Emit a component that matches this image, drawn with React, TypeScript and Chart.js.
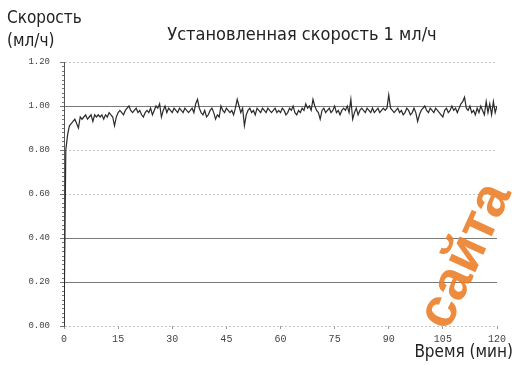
import React, { useEffect, useRef } from 'react';
import { Chart, registerables } from 'chart.js';

Chart.register(...registerables);

const TITLE = 'Установленная скорость 1 мл/ч';
const Y_TITLE = ['Скорость', '(мл/ч)'];
const X_TITLE = 'Время (мин)';
const WATERMARK = 'сайта';

const SAMPLE_STEP_MIN = 0.5;
const X_MAX = 120;
const X_STEP = 15;
const Y_MAX = 1.2;
const Y_STEP = 0.2;
const Y_SOLID_LINES = [1.0, 0.4, 0.2];

// speed (ml/h), sampled every 0.5 min from 0 to 120 min
const speed = [
  0.00, 0.80, 0.87, 0.91, 0.92, 0.93, 0.94, 0.92, 0.90, 0.95, 0.94, 0.95, 0.96, 0.94, 0.95, 0.96, 0.93, 0.96, 0.95, 0.96,
  0.95, 0.96, 0.94, 0.96, 0.95, 0.97, 0.96, 0.95, 0.91, 0.95, 0.97, 0.98, 0.97, 0.96, 0.98, 0.99, 1.00, 0.98, 0.97, 0.98,
  0.99, 0.97, 0.98, 0.96, 0.95, 0.97, 0.98, 0.97, 0.99, 0.96, 0.98, 1.00, 0.99, 1.01, 0.95, 0.98, 1.00, 0.97, 0.99, 0.98,
  0.97, 0.99, 0.98, 0.97, 0.99, 0.98, 0.97, 0.99, 0.98, 0.97, 0.98, 0.99, 0.97, 1.01, 1.03, 0.99, 0.97, 0.96, 0.98, 0.95,
  0.96, 0.98, 0.99, 0.97, 0.94, 0.96, 0.95, 1.00, 0.98, 0.97, 0.99, 0.98, 0.97, 0.98, 0.96, 0.99, 1.03, 1.00, 0.97, 0.99,
  0.91, 0.96, 0.98, 0.99, 0.97, 0.98, 0.96, 0.99, 0.98, 0.97, 0.99, 0.98, 0.97, 0.99, 0.98, 0.97, 0.98, 0.99, 0.97, 0.98,
  0.97, 0.99, 0.98, 0.96, 0.97, 0.99, 0.98, 1.00, 0.97, 0.96, 0.98, 0.97, 0.99, 0.98, 1.01, 0.99, 1.00, 0.98, 1.03, 1.00,
  0.98, 0.97, 0.94, 0.98, 0.99, 0.97, 0.98, 0.99, 0.97, 0.98, 1.00, 0.97, 0.98, 0.96, 0.98, 0.99, 0.98, 1.00, 0.97, 1.03,
  0.94, 0.97, 0.99, 0.96, 0.98, 0.99, 0.98, 0.97, 0.99, 0.98, 0.97, 0.99, 0.97, 0.98, 0.99, 0.97, 0.98, 0.99, 0.98, 0.99,
  1.05, 0.99, 0.98, 0.97, 0.98, 0.99, 0.97, 0.98, 0.96, 0.97, 0.99, 0.98, 0.96, 0.97, 0.99, 0.97, 0.93, 0.96, 0.98, 0.99,
  1.00, 0.98, 0.97, 0.99, 0.98, 0.97, 0.99, 0.98, 0.97, 0.96, 0.95, 0.98, 0.99, 0.97, 0.98, 1.00, 0.98, 0.99, 0.97, 0.99,
  1.01, 1.02, 1.04, 0.99, 0.98, 1.00, 0.97, 0.98, 0.96, 0.99, 0.97, 1.00, 0.98, 0.96, 1.02, 0.97, 1.01, 0.96, 1.02, 0.97,
  1.00,
];

const FONT_NARROW = '"Liberation Sans Narrow", "DejaVu Sans Condensed", "Noto Sans", sans-serif';
const FONT_TICK = '"Liberation Mono", "DejaVu Sans Mono", monospace';

export default function App() {
  const ref = useRef<HTMLCanvasElement>(null);

  useEffect(() => {
    document.body.style.margin = '0';
    const canvas = ref.current;
    if (!canvas) return;

    const points = speed.map((v, i) => ({ x: i * SAMPLE_STEP_MIN, y: v }));

    const isSolid = (v: number) => Y_SOLID_LINES.some((s) => Math.abs(s - v) < 1e-6);

    const decorPlugin = {
      id: 'decor',
      beforeDatasetsDraw(chart: any) {
        const { ctx, chartArea, scales } = chart;
        const y = scales.y;
        ctx.save();
        ctx.strokeStyle = '#777';
        ctx.lineWidth = 1;
        ctx.beginPath();
        for (let i = 0; i <= 60; i++) {
          const py = Math.round(y.getPixelForValue(i * 0.02)) + 0.5;
          const len = i % 10 === 0 ? 4 : 2;
          ctx.moveTo(chartArea.left - len, py);
          ctx.lineTo(chartArea.left, py);
        }
        ctx.stroke();
        ctx.restore();
      },
      afterDraw(chart: any) {
        const { ctx } = chart;
        ctx.save();
        ctx.fillStyle = '#222';
        ctx.textBaseline = 'middle';
        ctx.font = '18px ' + FONT_NARROW;
        ctx.textAlign = 'center';
        ctx.fillText(TITLE, 302, 35);
        ctx.font = '17px ' + FONT_NARROW;
        ctx.textAlign = 'left';
        ctx.fillText(Y_TITLE[0], 7, 19);
        ctx.fillText(Y_TITLE[1], 7, 42);
        ctx.textAlign = 'right';
        ctx.fillText(X_TITLE, 513, 353);

        // watermark
        ctx.translate(466, 256);
        ctx.rotate(-65.5 * Math.PI / 180);
        ctx.font = 'bold 55px "Liberation Sans", Arial, sans-serif';
        ctx.textAlign = 'center';
        ctx.fillStyle = 'rgba(234, 124, 36, 0.88)';
        ctx.fillText(WATERMARK, 0, 0);
        ctx.restore();
      },
    };

    const chart = new Chart(canvas, {
      type: 'line',
      data: {
        datasets: [
          {
            data: points,
            borderColor: '#2a2a2a',
            borderWidth: 1.2,
            pointRadius: 0,
            tension: 0,
            fill: false,
          },
        ],
      },
      options: {
        animation: false,
        responsive: false,
        maintainAspectRatio: false,
        layout: { padding: { top: 62, right: 18, left: 0, bottom: 0 } },
        plugins: {
          legend: { display: false },
          tooltip: { enabled: false },
          title: { display: false },
        },
        scales: {
          x: {
            type: 'linear',
            min: 0,
            max: X_MAX,
            ticks: {
              stepSize: X_STEP,
              color: '#444',
              font: { family: FONT_TICK, size: 10 },
              padding: 4,
              maxRotation: 0,
            },
            grid: {
              display: true,
              drawOnChartArea: false,
              drawTicks: true,
              tickLength: 3,
              color: '#999',
            },
            border: { display: false },
            afterFit(scale: any) {
              scale.height = 39;
            },
          },
          y: {
            min: 0,
            max: Y_MAX,
            ticks: {
              stepSize: Y_STEP,
              color: '#444',
              font: { family: FONT_TICK, size: 9 },
              padding: 14,
              callback: (v: any) => Number(v).toFixed(2),
            },
            grid: {
              drawTicks: false,
              color: (ctx: any) => (isSolid(ctx.tick?.value) ? '#7a7a7a' : '#c4c4c4'),
              lineWidth: 1,
            },
            border: {
              display: true,
              color: '#555',
              width: 1,
              dash: (ctx: any) => (ctx.tick && !isSolid(ctx.tick.value) ? [2, 2] : []),
            },
            afterFit(scale: any) {
              scale.width = 64;
            },
          },
        },
      },
      plugins: [decorPlugin],
    });

    return () => chart.destroy();
  }, []);

  return (
    <div style={{ position: 'absolute', left: 0, top: 0, width: 515, height: 365, background: '#fff' }}>
      <canvas ref={ref} width={515} height={365} style={{ width: 515, height: 365, display: 'block' }} />
    </div>
  );
}
